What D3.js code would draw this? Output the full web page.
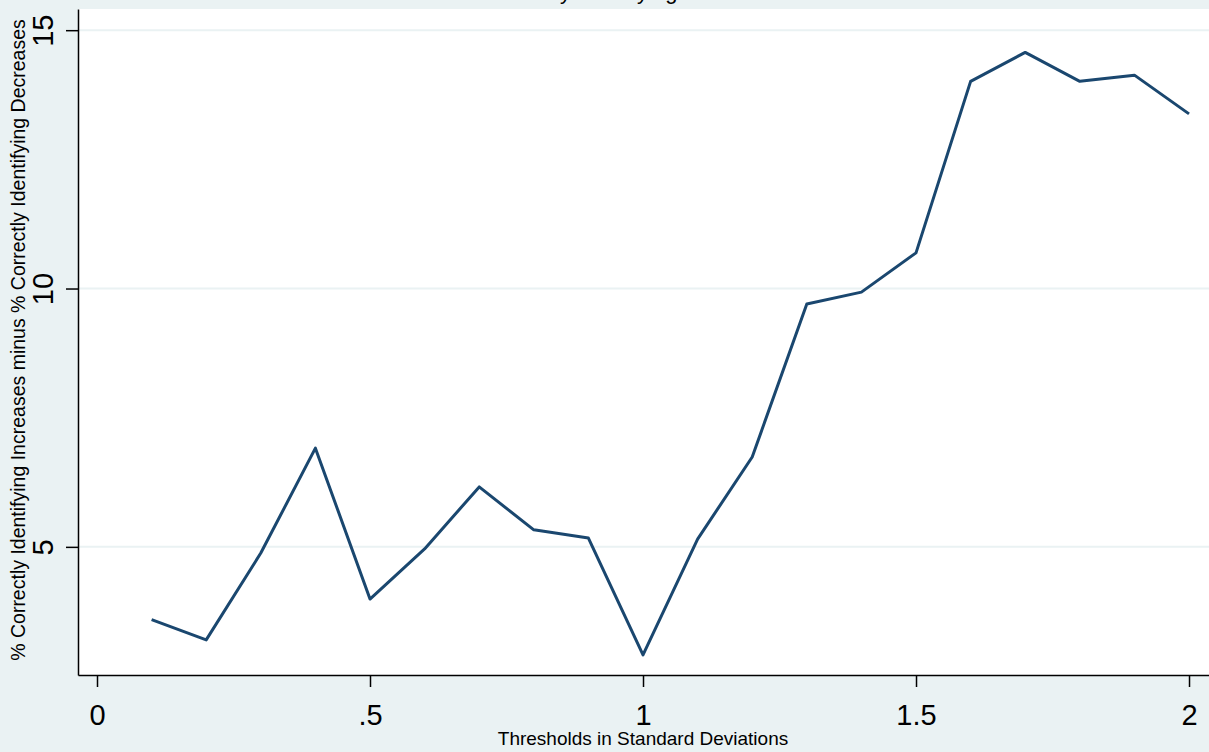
<!DOCTYPE html>
<html>
<head>
<meta charset="utf-8">
<script src="https://cdn.jsdelivr.net/npm/d3@7"></script>
<style>
  body { margin: 0; background: #eaf2f3; }
  svg { display: block; font-family: "Liberation Sans", Arial, sans-serif; }
</style>
</head>
<body>
<svg id="chart" width="1209" height="752"></svg>
<script>
// thresholds (x) and net % correctly identified (y)
var thresholds = [0.1, 0.2, 0.3, 0.4, 0.5, 0.6, 0.7, 0.8, 0.9, 1.0,
                  1.1, 1.2, 1.3, 1.4, 1.5, 1.6, 1.7, 1.8, 1.9, 2.0];
var netPct = [3.59, 3.20, 4.88, 6.91, 3.99, 4.96, 6.16, 5.33, 5.17, 2.91,
              5.15, 6.74, 9.70, 9.93, 10.69, 14.01, 14.57, 14.01, 14.13, 13.38];
var xTicks = [0, 0.5, 1, 1.5, 2];
var xTickLabels = ["0", ".5", "1", "1.5", "2"];
var yTicks = [5, 10, 15];
var yTickLabels = ["5", "10", "15"];

var svg = d3.select("#chart");
// plot region edges (can't use "top", it's window.top)
var pLeft = 78, pRight = 1209, pTop = 9, pBottom = 675;

var x = d3.scaleLinear().domain([-0.0348, 2.0366]).range([pLeft, pRight]);
var y = d3.scaleLinear().domain([2.52, 15.41]).range([pBottom, pTop]);

// background + plot region
svg.append("rect").attr("width", 1209).attr("height", 752).attr("fill", "#eaf2f3");
svg.append("rect")
  .attr("x", pLeft).attr("y", pTop)
  .attr("width", pRight - pLeft).attr("height", pBottom - pTop)
  .attr("fill", "#ffffff");

// title, mostly cut off at the top
svg.append("text")
  .attr("x", 483).attr("y", -1)
  .style("font-size", "22px")
  .attr("fill", "#000")
  .text("Correctly Identifying Trends");

// gridlines
svg.selectAll(".grid")
  .data(yTicks)
  .enter().append("line")
  .attr("class", "grid")
  .attr("x1", pLeft).attr("x2", pRight)
  .attr("y1", function(d) { return y(d); })
  .attr("y2", function(d) { return y(d); })
  .attr("stroke", "#eaf2f3")
  .attr("stroke-width", 2);

// the line
var line = d3.line()
  .x(function(d, i) { return x(thresholds[i]); })
  .y(function(d) { return y(d); });

svg.append("path")
  .datum(netPct)
  .attr("d", line)
  .attr("fill", "none")
  .attr("stroke", "#1a476f")
  .attr("stroke-width", 3)
  .attr("stroke-linejoin", "round");

// y axis
var yAxis = svg.append("g")
  .attr("transform", "translate(" + pLeft + ",0)")
  .call(d3.axisLeft(y).tickValues(yTicks).tickSize(12).tickSizeOuter(0)
    .tickFormat(function(d, i) { return yTickLabels[i]; }));
yAxis.select(".domain").attr("stroke", "#000").attr("stroke-width", 1.5);
yAxis.selectAll(".tick line").attr("stroke", "#000").attr("stroke-width", 1.5);
yAxis.selectAll(".tick text")
  .attr("x", null).attr("dy", null)
  .attr("transform", "translate(-25,0) rotate(-90)")
  .style("text-anchor", "middle")
  .style("font-size", "29px")
  .attr("fill", "#000");

// x axis
var xAxis = svg.append("g")
  .attr("transform", "translate(0," + pBottom + ")")
  .call(d3.axisBottom(x).tickValues(xTicks).tickSize(12).tickSizeOuter(0)
    .tickFormat(function(d, i) { return xTickLabels[i]; }));
xAxis.select(".domain").attr("stroke", "#000").attr("stroke-width", 1.5);
xAxis.selectAll(".tick line").attr("stroke", "#000").attr("stroke-width", 1.5);
xAxis.selectAll(".tick text")
  .attr("y", 50).attr("dy", null)
  .style("font-size", "29px")
  .attr("fill", "#000");

// axis titles
svg.append("text")
  .attr("x", 643).attr("y", 745)
  .style("text-anchor", "middle")
  .style("font-size", "19px")
  .text("Thresholds in Standard Deviations");

svg.append("text")
  .attr("transform", "translate(25,340) rotate(-90)")
  .style("text-anchor", "middle")
  .style("font-size", "19.5px")
  .text("% Correctly Identifying Increases minus % Correctly Identifying Decreases");
</script>
</body>
</html>
